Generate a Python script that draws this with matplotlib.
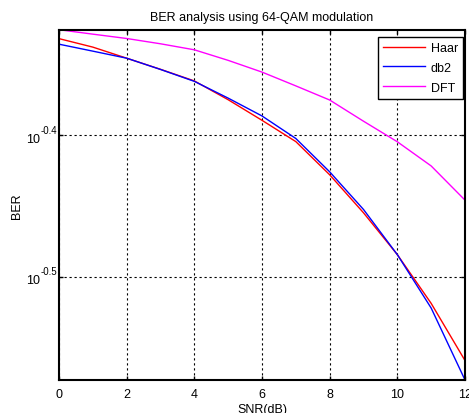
import matplotlib
matplotlib.use("Agg")
import matplotlib.pyplot as plt
from matplotlib.ticker import FixedLocator, NullLocator, NullFormatter

snr_db = [0, 1, 2, 3, 4, 5, 6, 7, 8, 9, 10, 11, 12]
ber_haar = [0.4660, 0.4596, 0.4514, 0.4433, 0.4350, 0.4219, 0.4080, 0.3941,
            0.3734, 0.3510, 0.3279, 0.3029, 0.2760]
ber_db2 = [0.4618, 0.4566, 0.4514, 0.4432, 0.4347, 0.4230, 0.4109, 0.3961,
           0.3752, 0.3529, 0.3279, 0.3006, 0.2674]
ber_dft = [0.4728, 0.4694, 0.4661, 0.4621, 0.4576, 0.4498, 0.4413, 0.4315,
           0.4217, 0.4074, 0.3940, 0.3788, 0.3583]
series_names = ["Haar", "db2", "DFT"]
y_tick_exponents = ["-0.5", "-0.4"]
x_ticks = [0, 2, 4, 6, 8, 10, 12]

plt.rcParams["font.family"] = ["Liberation Sans", "DejaVu Sans"]

FS = 9
fig = plt.figure(figsize=(4.69, 4.14), dpi=100)
ax = fig.add_axes([0.1258, 0.0797, 0.8657, 0.8461])

ax.plot(snr_db, ber_haar, color="#ff0000", lw=1.0, label=series_names[0])
ax.plot(snr_db, ber_db2, color="#0000ff", lw=1.0, label=series_names[1])
ax.plot(snr_db, ber_dft, color="#ff00ff", lw=1.0, label=series_names[2])

ax.set_yscale("log")
ax.set_xlim(0, 12)
ax.set_ylim(min(ber_db2), max(ber_dft))
y_ticks = [10 ** float(e) for e in y_tick_exponents]
ax.yaxis.set_major_locator(FixedLocator(y_ticks))
ax.yaxis.set_minor_locator(NullLocator())
ax.yaxis.set_major_formatter(NullFormatter())
ax.yaxis.set_minor_formatter(NullFormatter())
ax.set_xticks(x_ticks)
ax.set_xticklabels([str(v) for v in x_ticks])

# y tick labels as base with a raised exponent (plain hyphen sign)
ytrans = ax.get_yaxis_transform()
for val, exp in zip(y_ticks, y_tick_exponents):
    ax.annotate("10", xy=(0, val), xycoords=ytrans, xytext=(-23.5, -2.5),
                textcoords="offset points", ha="left", va="center", fontsize=FS)
    ax.annotate(exp, xy=(0, val), xycoords=ytrans, xytext=(-13.2, 4),
                textcoords="offset points", ha="left", va="center", fontsize=7)

ax.grid(True, which="major", color="black", linestyle=(0, (2, 2.5)), lw=0.8)
ax.tick_params(direction="in", length=3, width=1, labelsize=FS, top=True, right=True, pad=6)
for sp in ax.spines.values():
    sp.set_linewidth(1.5)

ax.set_title("BER analysis using 64-QAM modulation", fontsize=FS, pad=7)
ax.set_xlabel("SNR(dB)", fontsize=FS, labelpad=2)
ax.set_ylabel("BER", fontsize=FS)
ax.yaxis.set_label_coords(-0.088, 0.5)

leg = ax.legend(loc="upper right", fontsize=FS, fancybox=False, framealpha=1,
                edgecolor="black", borderpad=0.4, handlelength=3.3,
                handletextpad=0.5, labelspacing=0.62, borderaxespad=0,
                bbox_to_anchor=(463 / 469, 1 - 38 / 414),
                bbox_transform=fig.transFigure)
leg.get_frame().set_linewidth(1.0)

fig.savefig("out.png", dpi=100)
